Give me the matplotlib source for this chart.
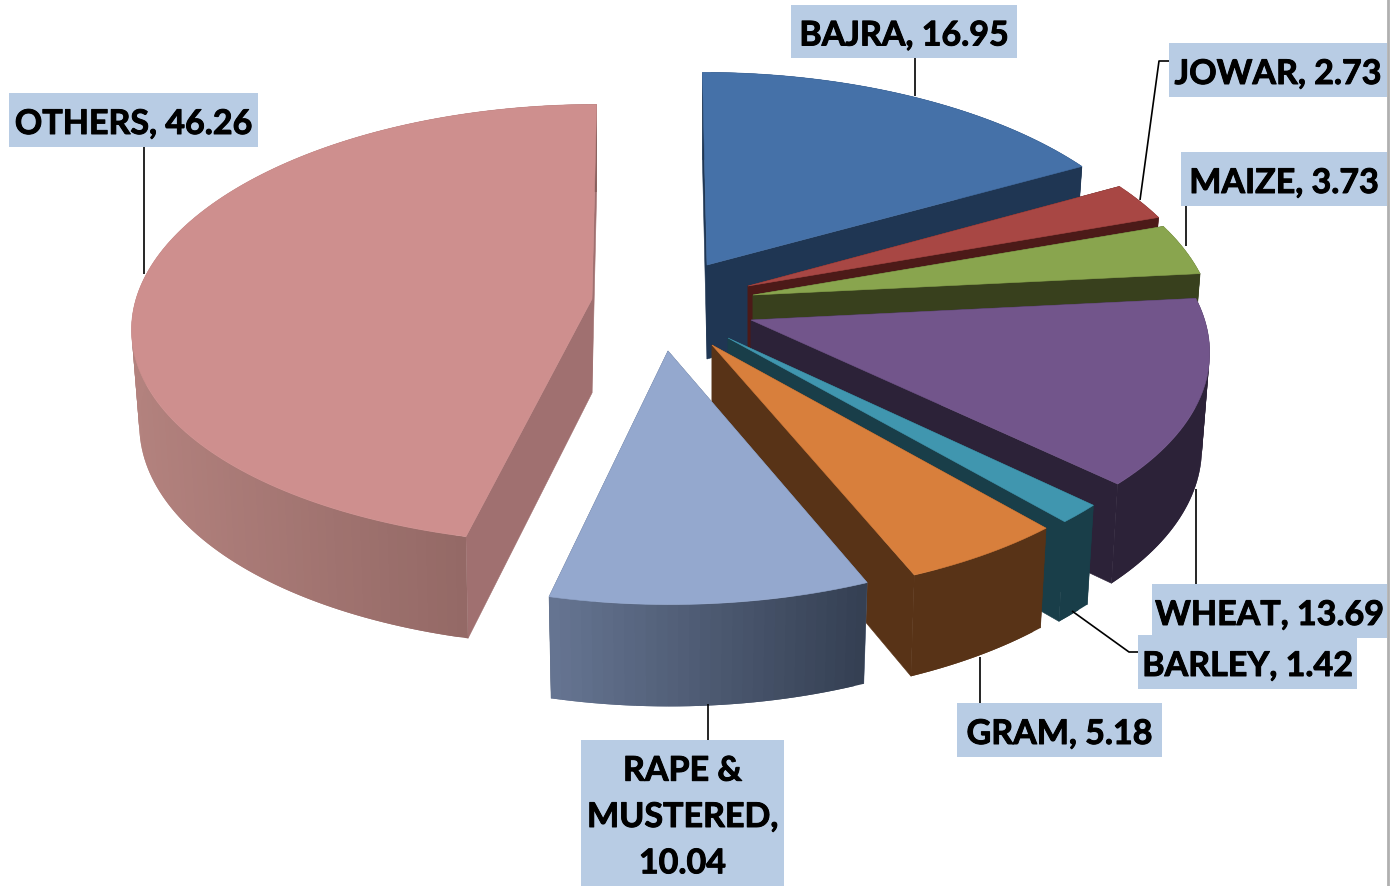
import numpy as np
import matplotlib
matplotlib.use("Agg")
import matplotlib.pyplot as plt
import matplotlib.patheffects as pe
from matplotlib.patches import Polygon, Rectangle

# ---- data ----
categories = ["BAJRA", "JOWAR", "MAIZE", "WHEAT", "BARLEY", "GRAM", "RAPE &\nMUSTERED", "OTHERS"]
values = [16.95, 2.73, 3.73, 13.69, 1.42, 5.18, 10.04, 46.26]

# ---- style / layout ----
top_colors = ["#4571A8", "#A84744", "#89A54E", "#72558B", "#4096AF", "#D87F3C", "#94A8CE", "#CE8F8E"]
cut_colors = ["#1F3653", "#4C1A18", "#38401D", "#2C2238", "#193E49", "#583317", "#56657F", "#A07070"]
wall_left = ["#1F3653", "#4C1A18", "#38401D", "#2C2238", "#193E49", "#583317", "#667592", "#B3827E"]
wall_right = ["#1F3653", "#4C1A18", "#38401D", "#2C2238", "#193E49", "#583317", "#343F52", "#875F5C"]
apex = [(707, 266), (748, 287), (753, 296), (751, 321), (728, 339), (712, 346), (668, 352), (592, 300)]
ry_scale = [0.99, 1.0, 1.0, 1.01, 1.03, 1.027, 1.034, 1.0]
rx_scale = [1.005, 1.0, 1.0, 0.995, 0.995, 0.99, 0.99, 1.0]
RX, RY, KX, KY, DEPTH, BOTTOM_SHRINK, VANISH, VANISH_X = 456, 217, 0.13, 0.115, 94, 0.983, 0.08, 650
FONT = ["Lato", "DejaVu Sans"]
FS = 24.5
BOX = "#B8CCE4"
labels = [
    ("BAJRA, 16.95", (791, 6, 1017, 59)),
    ("JOWAR, 2.73", (1169, 44, 1387, 98)),
    ("MAIZE, 3.73", (1181, 153, 1387, 207)),
    ("WHEAT, 13.69", (1152, 585, 1387, 639)),
    ("BARLEY, 1.42", (1138, 636, 1357, 690)),
    ("GRAM, 5.18", (957, 704, 1162, 758)),
    ("RAPE &\nMUSTERED,\n10.04", (581, 741, 784, 887)),
    ("OTHERS, 46.26", (9, 94, 258, 148)),
]
leaders = [
    [(915, 59), (915, 97)],
    [(1169, 62), (1159, 62), (1140, 201)],
    [(1186, 207), (1186, 247)],
    [(1196, 585), (1196, 490)],
    [(1138, 653), (1129, 653), (1072, 612)],
    [(980, 704), (980, 658)],
    [(708, 741), (708, 705)],
    [(144, 148), (144, 275)],
]


def proj(i, theta, level=0.0):
    """Perspective projection of a rim point; theta clockwise from 12 o'clock."""
    a = apex[i]
    X, Y = np.sin(theta), np.cos(theta)
    sx = 1.0 / (1.0 + KX * Y)
    sy = 1.0 / (1.0 + KY * Y)
    shrink = 1.0 - (1.0 - BOTTOM_SHRINK) * level
    return (a[0] + RX * rx_scale[i] * shrink * X * sx - (a[0] - VANISH_X) * VANISH * Y,
            a[1] - RY * ry_scale[i] * shrink * Y * sy + level * DEPTH * sy)


def lerp_hex(c1, c2, t):
    a = np.array(matplotlib.colors.to_rgb(c1))
    b = np.array(matplotlib.colors.to_rgb(c2))
    return tuple(a + (b - a) * t)


fig = plt.figure(figsize=(13.91, 8.87), dpi=100)
ax = fig.add_axes([0, 0, 1, 1])
ax.set_xlim(0, 1391)
ax.set_ylim(887, 0)
ax.axis("off")

edges = np.concatenate([[0], np.cumsum(values)]) / sum(values) * 2 * np.pi


def poly(pts, color, z, lw=0.4):
    ax.add_patch(Polygon(pts, closed=True, facecolor=color, edgecolor=color if lw else "none",
                         linewidth=lw, zorder=z))


for i, (a0, a1) in enumerate(zip(edges[:-1], edges[1:])):
    a = apex[i]
    z = 2 + i * 0.1
    ab = (a[0], a[1] + DEPTH)
    # radial cut walls
    for th in (a0, a1):
        poly([a, proj(i, th), proj(i, th, 1), ab], cut_colors[i], z)
    # outer rim, shaded along its length; quads overlap so no seams show
    thetas = np.linspace(a0, a1, max(4, int((a1 - a0) / 0.02)))
    xs = [proj(i, t)[0] for t in thetas]
    for j in range(len(thetas) - 1):
        t0, t1 = thetas[j], thetas[min(j + 2, len(thetas) - 1)]
        t = ((xs[j] + xs[j + 1]) / 2 - min(xs)) / max(max(xs) - min(xs), 1)
        poly([proj(i, t0), proj(i, t1), proj(i, t1, 1), proj(i, t0, 1)],
             lerp_hex(wall_left[i], wall_right[i], t), z + 0.01 + j * 1e-5, lw=0)
    # top face
    poly([a] + [proj(i, t) for t in thetas], top_colors[i], z + 0.02)

# leader lines
for pts in leaders:
    ax.plot(*zip(*pts), color="black", lw=1.2, zorder=5, solid_capstyle="butt")

# data labels
for text, (x0, y0, x1, y1) in labels:
    ax.add_patch(Rectangle((x0, y0), x1 - x0, y1 - y0, facecolor=BOX, edgecolor="none", zorder=6))
    ax.text((x0 + x1) / 2, (y0 + y1) / 2 + 4, text, ha="center", va="center", fontsize=FS,
            fontweight="bold", family=FONT, color="black", zorder=7, linespacing=1.55,
            path_effects=[pe.withStroke(linewidth=0.7, foreground="black")])

# picture frame edge
ax.plot([1388, 1388], [0, 887], color="#B0B0B0", lw=2, zorder=8)

fig.savefig("out.png", dpi=100)
